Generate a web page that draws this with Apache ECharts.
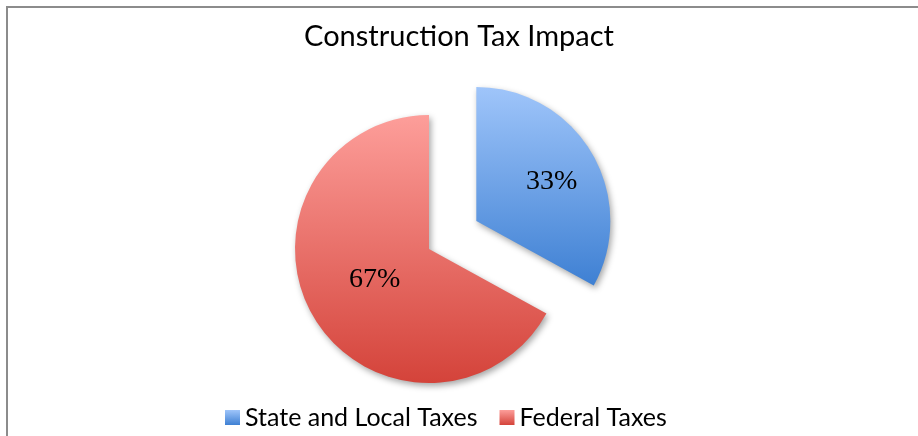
<!DOCTYPE html>
<html>
<head>
<meta charset="utf-8">
<script src="https://cdn.jsdelivr.net/npm/echarts@6/dist/echarts.min.js"></script>
<style>
  html, body { margin: 0; padding: 0; background: #fff; }
  .frame {
    position: absolute; left: 6px; top: 6px; width: 912px; height: 430px;
    border-left: 2px solid #8c8c8c; border-top: 2px solid #8c8c8c;
  }
  #main { position: absolute; left: 0; top: 0; width: 918px; height: 436px; }
</style>
</head>
<body>
<div class="frame"></div>
<div id="main"></div>
<script>
// chart data
const titleText = 'Construction Tax Impact';
const categories = ['State and Local Taxes', 'Federal Taxes'];
const shares = [33, 67];

function grad(top, bottom) {
    return new echarts.graphic.LinearGradient(0, 0, 0, 1, [
        { offset: 0, color: top },
        { offset: 1, color: bottom }
    ]);
}
const fills = [grad('#9fc5fa', '#3e80d3'), grad('#fd9e9a', '#d4433a')];
const legendFills = [grad('#9fc5fa', '#3e80d3'), grad('#fd9e9a', '#d4433a')];
// label nudges so the text sits where the original puts it
const labelShift = [[15, -4], [6, -5]];

var chart = echarts.init(document.getElementById('main'));
var option = {
    animation: false,
    title: {
        text: titleText,
        left: 'center',
        top: 17,
        textStyle: { fontFamily: 'Lato', fontWeight: 'normal', fontSize: 29, color: '#000' }
    },
    legend: {
        bottom: 1,
        left: 220,
        itemWidth: 15,
        itemHeight: 15,
        itemGap: 22,
        icon: 'rect',
        textStyle: { fontFamily: 'Lato', fontSize: 25, color: '#000' },
        data: categories.map((c, i) => ({ name: c, itemStyle: { color: legendFills[i] } }))
    },
    series: [{
        type: 'pie',
        center: [429, 249],
        radius: 134,
        startAngle: 90,
        clockwise: true,
        selectedMode: 'single',
        selectedOffset: 55,
        label: {
            show: true,
            position: 'inside',
            formatter: '{c}%',
            fontFamily: 'Liberation Serif',
            fontSize: 28,
            color: '#000'
        },
        labelLine: { show: false },
        labelLayout: function (params) {
            const s = labelShift[params.dataIndex];
            return { dx: s[0], dy: s[1] };
        },
        emphasis: { disabled: true },
        itemStyle: {
            shadowBlur: 6,
            shadowOffsetX: 2,
            shadowOffsetY: 3,
            shadowColor: 'rgba(0,0,0,0.35)'
        },
        data: categories.map((c, i) => ({
            name: c,
            value: shares[i],
            selected: i === 0,
            itemStyle: { color: fills[i] }
        }))
    }]
};
chart.setOption(option);
</script>
</body>
</html>
